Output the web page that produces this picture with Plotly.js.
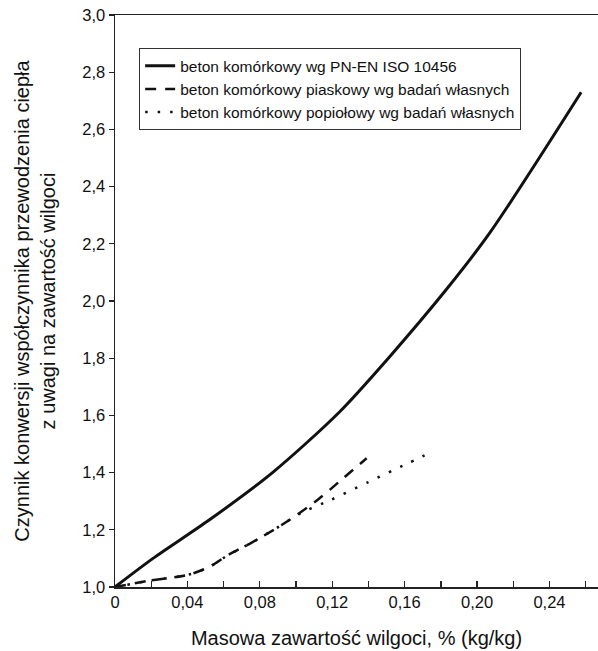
<!DOCTYPE html>
<html>
<head>
<meta charset="utf-8">
<script src="https://cdn.plot.ly/plotly-3.0.1.min.js"></script>
<style>html,body{margin:0;padding:0;background:#fff;}#chart{width:598px;height:651px;}</style>
</head>
<body>
<div id="chart"></div>
<script>
// Data
const isoX = [0, 0.021, 0.052, 0.087, 0.124, 0.151, 0.183, 0.207, 0.2575];
const isoY = [1.0, 1.10, 1.234, 1.40, 1.612, 1.80, 2.04, 2.238, 2.73];

const sandX = [0, 0.019, 0.040, 0.052, 0.062, 0.076, 0.089, 0.100, 0.113, 0.126, 0.139];
const sandY = [1.0, 1.022, 1.042, 1.07, 1.11, 1.157, 1.205, 1.25, 1.31, 1.38, 1.45];

const ashX = [0, 0.019, 0.040, 0.052, 0.062, 0.076, 0.089, 0.102, 0.119, 0.140, 0.161, 0.171];
const ashY = [1.0, 1.022, 1.042, 1.07, 1.11, 1.157, 1.205, 1.256, 1.304, 1.367, 1.43, 1.46];

const seriesNames = [
  'beton komórkowy wg PN-EN ISO 10456',
  'beton komórkowy piaskowy wg badań własnych',
  'beton komórkowy popiołowy wg badań własnych'
];

const xTickVals = [0, 0.02, 0.04, 0.06, 0.08, 0.10, 0.12, 0.14, 0.16, 0.18, 0.20, 0.22, 0.24, 0.26];
const xTickText = ['0', '', '0,04', '', '0,08', '', '0,12', '', '0,16', '', '0,20', '', '0,24', ''];
const yTickVals = [1.0, 1.2, 1.4, 1.6, 1.8, 2.0, 2.2, 2.4, 2.6, 2.8, 3.0];
const yTickText = ['1,0', '1,2', '1,4', '1,6', '1,8', '2,0', '2,2', '2,4', '2,6', '2,8', '3,0'];

const traces = [
  {x: isoX, y: isoY, name: seriesNames[0], mode: 'lines',
   line: {color: '#111', width: 3, shape: 'spline', smoothing: 0.8}},
  {x: sandX, y: sandY, name: seriesNames[1], mode: 'lines',
   line: {color: '#111', width: 2.5, dash: '11px,9px', shape: 'spline', smoothing: 0.8}},
  {x: ashX, y: ashY, name: seriesNames[2], mode: 'lines',
   line: {color: '#111', width: 2.5, dash: '2.5px,10px', shape: 'spline', smoothing: 0.8}}
];

const font = {family: 'Liberation Sans, Arial, sans-serif', color: '#111'};

const layout = {
  width: 598, height: 651,
  margin: {l: 115, r: 0, t: 15, b: 64},
  paper_bgcolor: '#fff', plot_bgcolor: '#fff',
  font: Object.assign({size: 16}, font),
  showlegend: true,
  legend: {
    x: 0.05, y: 0.942, xanchor: 'left', yanchor: 'top',
    bgcolor: '#fff', bordercolor: '#333', borderwidth: 1,
    font: Object.assign({size: 15.5}, font),
    tracegroupgap: 0, itemwidth: 30
  },
  xaxis: {
    range: [0, 0.2668], tickvals: xTickVals, ticktext: xTickText,
    ticks: 'inside', ticklen: 6, tickwidth: 1.3, tickcolor: '#222',
    showline: true, linecolor: '#222', linewidth: 1.5, mirror: true,
    showgrid: false, zeroline: false,
    tickfont: Object.assign({size: 16.5}, font),
    title: {text: 'Masowa zawartość wilgoci, % (kg/kg)', font: Object.assign({size: 20}, font), standoff: 20}
  },
  yaxis: {
    range: [1.0, 3.0], tickvals: yTickVals, ticktext: yTickText,
    ticks: 'outside', ticklen: 5, tickwidth: 1.3, tickcolor: '#222',
    showline: true, linecolor: '#222', linewidth: 1.5,
    showgrid: false, zeroline: false,
    tickfont: Object.assign({size: 16.5}, font),
    title: {text: 'Czynnik konwersji współczynnika przewodzenia ciepła<br>z uwagi na zawartość wilgoci',
            font: Object.assign({size: 20}, font), standoff: 21}
  },
  yaxis2: {
    overlaying: 'y', range: [1.0, 3.0], tickvals: yTickVals,
    ticks: 'inside', ticklen: 3, tickwidth: 1.3, tickcolor: '#222',
    showticklabels: false, showline: false, showgrid: false, zeroline: false
  }
};

Plotly.newPlot('chart', traces, layout, {staticPlot: true});
</script>
</body>
</html>
